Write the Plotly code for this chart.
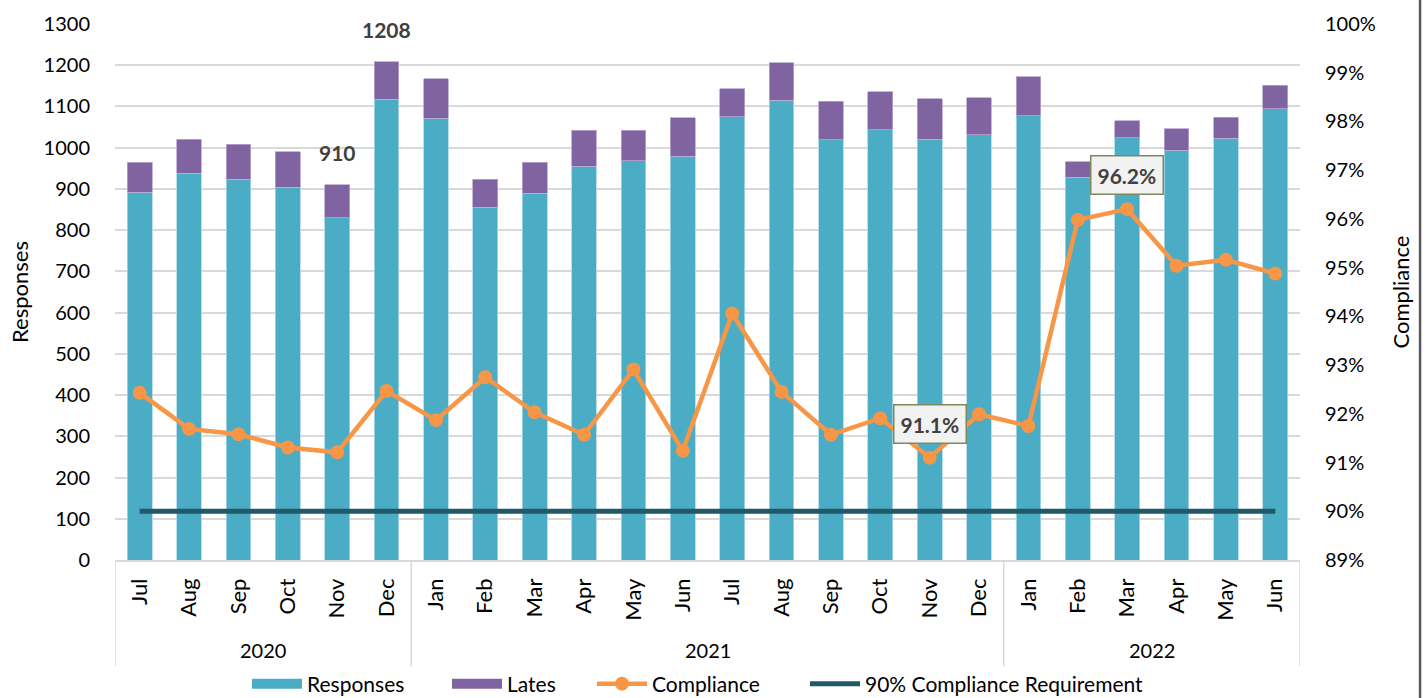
import plotly.graph_objects as go

# Monthly responses, late responses and compliance, Jul 2020 - Jun 2022
months = ["Jul", "Aug", "Sep", "Oct", "Nov", "Dec",
          "Jan", "Feb", "Mar", "Apr", "May", "Jun", "Jul", "Aug", "Sep", "Oct", "Nov", "Dec",
          "Jan", "Feb", "Mar", "Apr", "May", "Jun"]
years = ["2020", "2021", "2022"]
year_counts = [6, 12, 6]

totals = [965, 1021, 1008, 990, 910, 1208,
          1167, 923, 965, 1042, 1042, 1073, 1143, 1206, 1113, 1136, 1119, 1121,
          1172, 966, 1065, 1046, 1074, 1151]
responses = [892, 938, 923, 904, 830, 1118,
             1072, 856, 890, 955, 968, 979, 1075, 1115, 1019, 1044, 1020, 1031,
             1077, 928, 1024, 994, 1023, 1094]
lates = [t - r for t, r in zip(totals, responses)]

compliance = [92.43, 91.69, 91.58, 91.31, 91.21, 92.47,
              91.87, 92.75, 92.03, 91.57, 92.91, 91.24, 94.06, 92.45, 91.57, 91.91, 91.1, 91.99,
              91.75, 95.98, 96.2, 95.04, 95.16, 94.88]
requirement = [90] * len(months)

# Months whose totals / compliance values get a callout
total_labels = [4, 5]
compliance_labels = [16, 20]

FONT = "Lato"
TEAL = "#4BACC6"
PURPLE = "#8064A2"
ORANGE = "#F79646"
DARK = "#215968"
GRID = "#D9D9D9"
W, H = 1427, 698

x = list(range(len(months)))

fig = go.Figure()
fig.add_trace(go.Bar(x=x, y=responses, name="Responses", marker_color=TEAL,
                     marker_line=dict(width=0.8, color="#A9D8E6"), width=0.5,
                     legendgroup="responses", showlegend=False))
fig.add_trace(go.Bar(x=x, y=lates, name="Lates", marker_color=PURPLE,
                     marker_line=dict(width=0.8, color="#B9A6D0"), width=0.5,
                     legendgroup="lates", showlegend=False))
# Wide swatches for the bar series in the legend
fig.add_trace(go.Scatter(x=[None], y=[None], name="Responses", mode="lines",
                         line=dict(color=TEAL, width=16), legendgroup="responses",
                         legend="legend"))
fig.add_trace(go.Scatter(x=[None], y=[None], name="Lates", mode="lines",
                         line=dict(color=PURPLE, width=16), legendgroup="lates",
                         legend="legend2"))
fig.add_trace(go.Scatter(x=x, y=compliance, name="Compliance", yaxis="y2",
                         mode="lines+markers",
                         line=dict(color=ORANGE, width=4.5),
                         marker=dict(color=ORANGE, size=14), legend="legend3"))
fig.add_trace(go.Scatter(x=x, y=requirement, name="90% Compliance Requirement", yaxis="y2",
                         mode="lines", line=dict(color=DARK, width=5), legend="legend4"))

annotations = []
for i in total_labels:
    annotations.append(dict(x=i, y=totals[i], xref="x", yref="y", text=f"<b>{totals[i]}</b>",
                            showarrow=False, yanchor="middle", yshift=32,
                            font=dict(family=FONT, size=21, color="#404040")))
for i in compliance_labels:
    annotations.append(dict(x=i, y=compliance[i], xref="x", yref="y2", text=f"<b>{compliance[i]:.1f}%</b>",
                            showarrow=False, yanchor="middle", yshift=34,
                            bgcolor="#F2F2F2", bordercolor="#7A8A5C", borderwidth=1.5, borderpad=6,
                            font=dict(family=FONT, size=21, color="#404040")))

# Year labels beneath the month ticks, with group dividers
shapes = []
start = 0
bounds = [-0.5]
for yr, n in zip(years, year_counts):
    mid = start + (n - 1) / 2
    annotations.append(dict(x=mid, y=-0.168, xref="x", yref="paper", text=yr, showarrow=False,
                            yanchor="middle", font=dict(family=FONT, size=20, color="#000000")))
    start += n
    bounds.append(start - 0.5)
for b in bounds:
    shapes.append(dict(type="line", xref="x", yref="paper", x0=b, x1=b, y0=0, y1=-0.198,
                       line=dict(color=GRID, width=1.5)))

# Frame line at the right edge
shapes.append(dict(type="line", xref="paper", yref="paper", x0=1.1013, x1=1.1013, y0=1.05, y1=-0.26,
                   line=dict(color="#595959", width=2.5)))


def legend_at(px_left):
    return dict(orientation="h", x=px_left / W, xanchor="left", xref="container",
                y=(H - 684) / H, yanchor="middle", yref="container",
                font=dict(family=FONT, size=21), bgcolor="rgba(0,0,0,0)", itemwidth=50)


fig.update_layout(
    width=W, height=H,
    margin=dict(l=115, r=127, t=24, b=138, autoexpand=False),
    paper_bgcolor="white", plot_bgcolor="white",
    barmode="stack",
    font=dict(family=FONT, size=20, color="#000000"),
    xaxis=dict(range=[-0.5, len(months) - 0.5], tickvals=x, ticktext=months, tickangle=-90,
               showgrid=False, zeroline=False, showline=True, linecolor=GRID, linewidth=1.5,
               ticks="outside", ticklen=8, tickcolor="rgba(0,0,0,0)", automargin=False,
               tickfont=dict(family=FONT, size=22)),
    yaxis=dict(range=[0, 1300], dtick=100, showgrid=True, gridcolor=GRID, gridwidth=1.5,
               zeroline=False, ticks="outside", ticklen=20, tickcolor="rgba(0,0,0,0)",
               automargin=False,
               title=dict(text="Responses", standoff=8, font=dict(family=FONT, size=22)),
               tickfont=dict(family=FONT, size=20)),
    yaxis2=dict(range=[89, 100], dtick=1, ticksuffix="%", overlaying="y", side="right",
                showgrid=False, zeroline=False, ticks="outside", ticklen=20,
                tickcolor="rgba(0,0,0,0)", automargin=False,
                title=dict(text="Compliance", standoff=18, font=dict(family=FONT, size=22)),
                tickfont=dict(family=FONT, size=20)),
    legend=legend_at(247),
    legend2=legend_at(447),
    legend3=legend_at(592),
    legend4=legend_at(805),
    annotations=annotations,
    shapes=shapes,
    showlegend=True,
)

fig.write_html("out.html")
